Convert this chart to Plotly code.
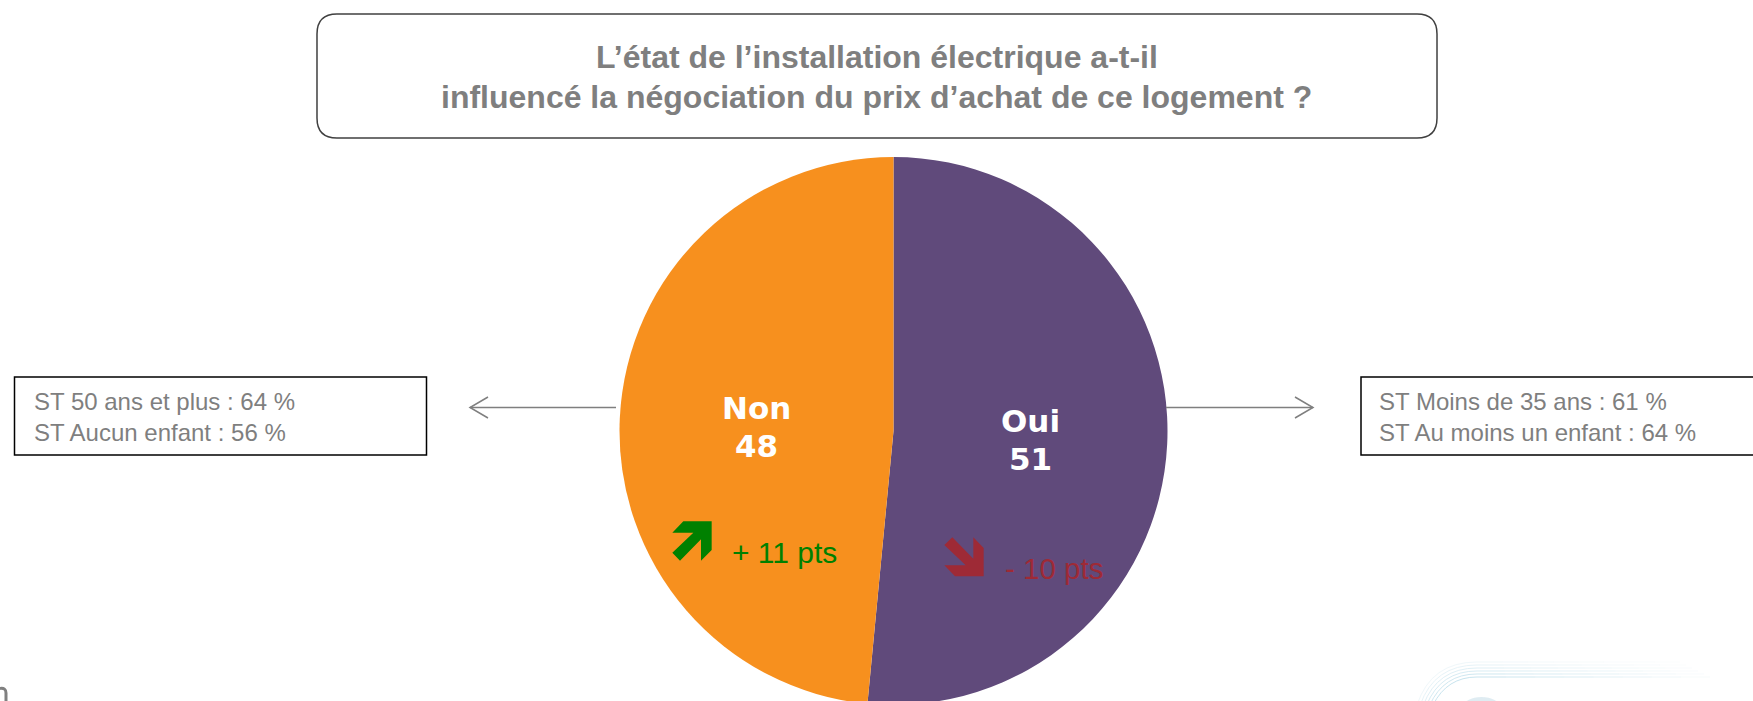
import plotly.graph_objects as go

# ---- data ----
CATEGORIES = ["Oui", "Non"]
VALUES = [51, 48]
SLICE_COLORS = ["#604A7B", "#F7901E"]
TITLE_LINES = ["L’état de l’installation électrique a-t-il",
               "influencé la négociation du prix d’achat de ce logement ?"]
LEFT_NOTES = ["ST 50 ans et plus : 64 %", "ST Aucun enfant : 56 %"]
RIGHT_NOTES = ["ST Moins de 35 ans : 61 %", "ST Au moins un enfant : 64 %"]
DELTA_TEXTS = {"Non": "+ 11 pts", "Oui": "- 10 pts"}

W, H = 1753, 720
FONT = "Liberation Sans"
GREY = "#7F7F7F"


def X(v):
    return v / W


def Y(v):
    return 1 - v / H


def k(a, b):
    return f"{X(a):.5f},{Y(b):.5f}"


def path(points, close=True):
    s = "M " + " L ".join(k(a, b) for a, b in points)
    return s + (" Z" if close else "")


def rounded(x0, y0, x1, y1, r):
    return (f"M {k(x0 + r, y0)} L {k(x1 - r, y0)} Q {k(x1, y0)} {k(x1, y0 + r)} "
            f"L {k(x1, y1 - r)} Q {k(x1, y1)} {k(x1 - r, y1)} "
            f"L {k(x0 + r, y1)} Q {k(x0, y1)} {k(x0, y1 - r)} "
            f"L {k(x0, y0 + r)} Q {k(x0, y0)} {k(x0 + r, y0)} Z")


def txt(x, y, text, size, color, bold=False, anchor="left", family=FONT):
    shown = f"<b>{text}</b>" if bold else text
    return dict(xref="paper", yref="paper", x=X(x), y=Y(y), text=shown, showarrow=False,
                xanchor=anchor, yanchor="middle", align="center",
                font=dict(family=family, size=size, color=color))


def pshape(p, **kw):
    return dict(type="path", xref="paper", yref="paper", path=p, **kw)


cx, cy, R = 893.5, 431, 274
fig = go.Figure(go.Pie(
    labels=CATEGORIES, values=VALUES, sort=False, direction="clockwise", rotation=0,
    marker=dict(colors=SLICE_COLORS, line=dict(width=0)),
    textinfo="none", hoverinfo="label+value", showlegend=False,
    domain=dict(x=[X(cx - R), X(cx + R)], y=[Y(cy + R), Y(cy - R)]),
))

shapes = []
ann = []

# title box
shapes.append(pshape(rounded(317, 14, 1437, 138, 20), line=dict(color="#404040", width=1.5)))
ann.append(txt(876.5, 57, TITLE_LINES[0], 32, GREY, True, "center"))
ann.append(txt(876.5, 97, TITLE_LINES[1], 32, GREY, True, "center"))

# side boxes
for x0, x1 in ((14.5, 426.5), (1361, 1770)):
    shapes.append(dict(type="rect", xref="paper", yref="paper", x0=X(x0), x1=X(x1), y0=Y(377), y1=Y(455),
                       line=dict(color="#000000", width=1.5)))
for i, t in enumerate(LEFT_NOTES):
    ann.append(txt(31.5, 401.5 + 30.5 * i, t, 24, GREY))
for i, t in enumerate(RIGHT_NOTES):
    ann.append(txt(1376.5, 401.5 + 30.5 * i, t, 24, GREY))

# connector arrows
AY = 407.5
line_style = dict(color=GREY, width=1.5)
shapes.append(pshape(path([(616, AY), (470, AY)], False), line=line_style))
shapes.append(pshape(path([(488, AY - 10.5), (470, AY), (488, AY + 10.5)], False), line=line_style))
shapes.append(pshape(path([(1166, AY), (1313, AY)], False), line=line_style))
shapes.append(pshape(path([(1295, AY - 10.5), (1313, AY), (1295, AY + 10.5)], False), line=line_style))

# slice labels
LABEL_POS = {"Non": (756, 407.5, 446), "Oui": (1030, 420.5, 459)}
for c, v in zip(CATEGORIES, VALUES):
    x, y1, y2 = LABEL_POS[c]
    ann.append(txt(x, y1, c, 31, "#FFFFFF", True, "center", "DejaVu Sans"))
    ann.append(txt(x, y2, str(v), 31, "#FFFFFF", True, "center", "DejaVu Sans"))

# delta arrows
GREEN = "#008000"
RED = "#9E2A36"
gx, gy = 640, 380
green_pts = [(97, 458), (130, 424), (215, 424), (215, 510), (183, 542), (183, 478), (120, 542), (97, 518), (160, 458)]
red_pts = [(1031, 589), (945, 589), (913, 556), (977, 556), (913, 495), (937, 472), (1000, 536), (1000, 472), (1031, 504)]
shapes.append(pshape(path([(gx + a / 3, gy + b / 3) for a, b in green_pts]), fillcolor=GREEN, line=dict(width=0)))
shapes.append(pshape(path([(gx + a / 3, gy + b / 3) for a, b in red_pts]), fillcolor=RED, line=dict(width=0)))
ann.append(txt(730, 552, DELTA_TEXTS["Non"], 30, GREEN))
ann.append(txt(1003, 568.5, DELTA_TEXTS["Oui"], 29.5, RED))

# clipped fragment, bottom-left
shapes.append(pshape(f"M {k(0, 688.5)} Q {k(6, 687.5)} {k(6, 693)} L {k(6, 703)}",
                     line=dict(color="#808080", width=3)))

# faint logo, bottom-right
for i in range(6):
    y = 662 + i * 3
    x_c = 1477
    left = 1417 + i * 3.2
    op_curve = 0.15 + 0.08 * i
    shapes.append(pshape(f"M {k(left, 705)} Q {k(left + 14, y)} {k(x_c, y)}",
                         line=dict(color="#9CCFE2", width=1), opacity=op_curve))
    end = 1680 + i * 6
    n = 8
    for j in range(n):
        a = x_c + (end - x_c) * j / n
        b = x_c + (end - x_c) * (j + 1) / n
        shapes.append(pshape(path([(a, y), (b, y)], False), line=dict(color="#9CCFE2", width=1),
                             opacity=op_curve * (1 - j / n)))
shapes.append(dict(type="circle", xref="paper", yref="paper", x0=X(1463), x1=X(1500), y0=Y(718), y1=Y(697),
                   fillcolor="#C5DCE8", opacity=0.55, line=dict(width=0)))

fig.update_layout(width=W, height=H, margin=dict(l=0, r=0, t=0, b=0), autosize=False,
                  paper_bgcolor="white", plot_bgcolor="white", showlegend=False,
                  shapes=shapes, annotations=ann, font=dict(family=FONT))

fig.write_html("out.html", config=dict(displayModeBar=False), post_script=(
    "document.documentElement.style.overflow='hidden';"
    "document.body.style.overflow='hidden';document.body.style.margin='0';"))
